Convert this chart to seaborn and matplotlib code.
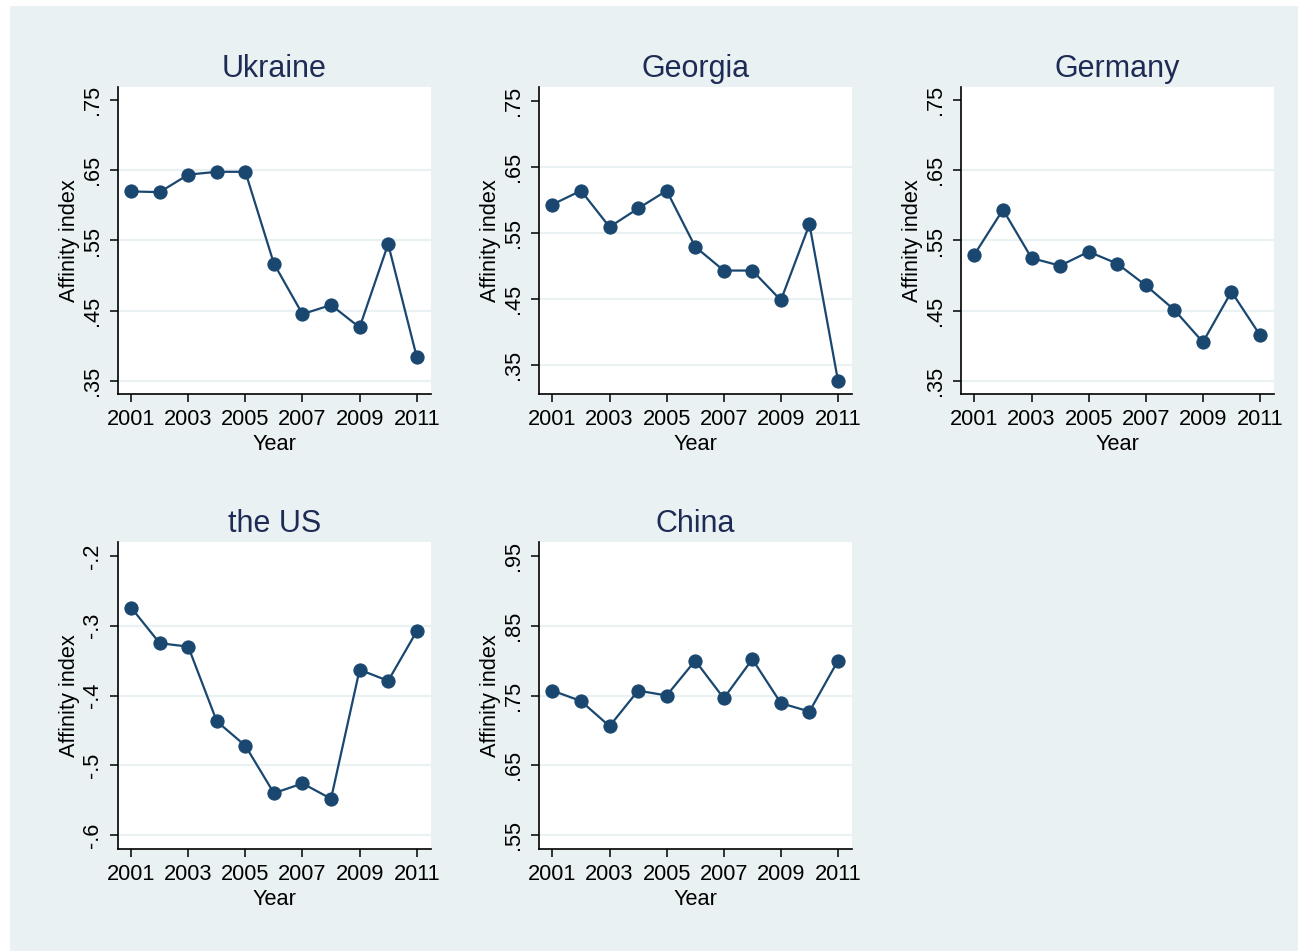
import numpy as np
import pandas as pd
import matplotlib
matplotlib.use("Agg")
import matplotlib.pyplot as plt
from matplotlib.patches import Rectangle
import seaborn as sns

# Affinity index by year for each country
years = list(range(2001, 2012))
ukraine = [0.620, 0.619, 0.644, 0.648, 0.648, 0.517, 0.445, 0.458, 0.426, 0.545, 0.384]
georgia = [0.593, 0.614, 0.559, 0.587, 0.614, 0.529, 0.493, 0.493, 0.448, 0.563, 0.326]
germany = [0.530, 0.594, 0.525, 0.514, 0.534, 0.517, 0.486, 0.451, 0.405, 0.477, 0.415]
the_us = [-0.274, -0.325, -0.330, -0.437, -0.472, -0.540, -0.526, -0.548, -0.363, -0.379, -0.308]
china = [0.757, 0.742, 0.706, 0.757, 0.750, 0.800, 0.746, 0.802, 0.739, 0.727, 0.800]

countries = ["Ukraine", "Georgia", "Germany", "the US", "China"]
series = [ukraine, georgia, germany, the_us, china]

xticks = [2001, 2003, 2005, 2007, 2009, 2011]
yticks_main = [0.35, 0.45, 0.55, 0.65, 0.75]
ylabels_main = [".35", ".45", ".55", ".65", ".75"]
yticks_us = [-0.6, -0.5, -0.4, -0.3, -0.2]
ylabels_us = ["-.6", "-.5", "-.4", "-.3", "-.2"]
yticks_cn = [0.55, 0.65, 0.75, 0.85, 0.95]
ylabels_cn = [".55", ".65", ".75", ".85", ".95"]

yticks = [yticks_main, yticks_main, yticks_main, yticks_us, yticks_cn]
ylabels = [ylabels_main, ylabels_main, ylabels_main, ylabels_us, ylabels_cn]
ylims = [(0.331, 0.769), (0.306, 0.771), (0.331, 0.769), (-0.62, -0.18), (0.53, 0.97)]

df = pd.concat(
    [pd.DataFrame({"Year": years, "Affinity index": vals, "country": name})
     for name, vals in zip(countries, series)],
    ignore_index=True,
)

sns.set_theme(style="white")
plt.rcParams["font.family"] = ["Liberation Sans", "DejaVu Sans"]

W, H = 1298, 951
fig = plt.figure(figsize=(W / 100, H / 100), dpi=100, facecolor="white")

BG = "#EAF1F3"
LINE = "#1A476F"
TITLE = "#1E2C55"
fig.patches.append(Rectangle((10 / W, 0), 1 - 10 / W, 1 - 6 / H,
                             transform=fig.transFigure, facecolor=BG,
                             edgecolor="none", zorder=-10))

lefts = [117.7, 539, 961, 117.7, 539]
bottoms = [394, 394, 394, 849, 849]
aw, ah = 313.3, 307

for i, name in enumerate(countries):
    ax = fig.add_axes([lefts[i] / W, 1 - bottoms[i] / H, aw / W, ah / H])
    ax.set_facecolor("white")
    sub = df[df["country"] == name]
    sns.lineplot(data=sub, x="Year", y="Affinity index", ax=ax, color=LINE,
                 linewidth=1.6, marker="o", markersize=9.5,
                 markeredgecolor=LINE, markerfacecolor=LINE, zorder=3)
    ax.set_xlim(2000.53, 2011.5)
    ax.set_ylim(*ylims[i])
    ax.set_xticks(xticks)
    ax.set_xticklabels([str(x) for x in xticks])
    ax.set_yticks(yticks[i])
    ax.set_yticklabels(ylabels[i], rotation=90, va="center")
    ax.tick_params(axis="both", direction="out", length=6, width=1.1,
                   color="black", labelsize=15.7, labelcolor="black", pad=4.5,
                   left=True, bottom=True)
    # horizontal grid lines at every y tick except the top one
    for yv in yticks[i][:-1]:
        ax.axhline(yv, color=BG, linewidth=1.6, zorder=1)
    for side in ["top", "right"]:
        ax.spines[side].set_visible(False)
    for side in ["left", "bottom"]:
        ax.spines[side].set_color("black")
        ax.spines[side].set_linewidth(1.2)
    ax.set_xlabel("Year", fontsize=15.7, color="black", labelpad=3)
    ax.set_ylabel("Affinity index", fontsize=15.7, color="black", labelpad=1.5)
    ax.set_title(name, fontsize=22, color=TITLE, pad=7)

fig.savefig("out.png", dpi=100, facecolor="white")
